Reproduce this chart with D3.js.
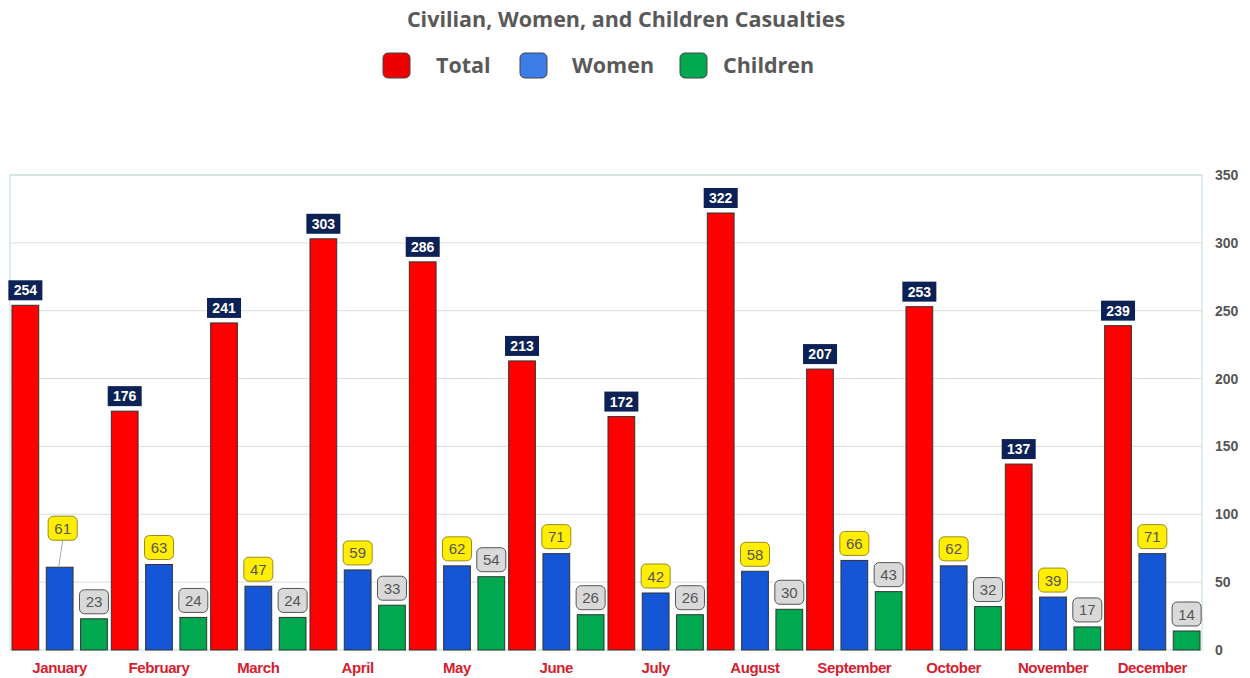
<!DOCTYPE html>
<html><head><meta charset="utf-8">
<script src="https://cdn.jsdelivr.net/npm/d3@7"></script>
<style>body{margin:0;background:#fff;} svg{display:block;}</style>
</head><body>
<svg id="chart" width="1250" height="678"></svg>
<script>
const months = ["January","February","March","April","May","June","July","August","September","October","November","December"];
const seriesNames = ["Total","Women","Children"];
const total    = [254,176,241,303,286,213,172,322,207,253,137,239];
const women    = [61,63,47,59,62,71,42,58,66,62,39,71];
const children = [23,24,24,33,54,26,26,30,43,32,17,14];
const yTicks = [0,50,100,150,200,250,300,350];

const seriesValues = [total, women, children];
const barColors = ["#ff0000","#1556d6","#00a84f"];
const legendColors = ["#ee0000","#3c7ee8","#00a84f"];

const svg = d3.select("#chart");
const L = 10, R = 1202, T = 175, B = 650;

const x0 = d3.scaleBand().domain(months).range([L,R]).paddingInner(0.04).paddingOuter(0.02);
const x1 = d3.scaleBand().domain(seriesNames).range([0,x0.bandwidth()]).paddingInner(0.22);
const y = d3.scaleLinear().domain([0,350]).range([B,T]);

// title
svg.append("text").attr("x",626).attr("y",27).attr("text-anchor","middle")
  .attr("font-family","'Open Sans', sans-serif").attr("font-weight","bold").attr("font-size",21.5)
  .attr("fill","#595959").text("Civilian, Women, and Children Casualties");

// legend
const legendX = [383,520,680];
const legendTextX = [436,572,723];
seriesNames.forEach((s,i)=>{
  svg.append("rect").attr("x",legendX[i]).attr("y",53).attr("width",27).attr("height",25).attr("rx",5)
    .attr("fill",legendColors[i]).attr("stroke","#444").attr("stroke-width",1);
  svg.append("text").attr("x",legendTextX[i]).attr("y",73)
    .attr("font-family","'Open Sans', sans-serif").attr("font-weight","bold").attr("font-size",21.5)
    .attr("fill","#595959").text(s);
});

// gridlines
svg.append("g").selectAll("line").data(yTicks.filter(d=>d>0)).join("line")
  .attr("x1",L).attr("x2",R).attr("y1",d=>y(d)).attr("y2",d=>y(d))
  .attr("stroke","#dcdcdc").attr("stroke-width",1);
// plot border
svg.append("rect").attr("x",L).attr("y",T).attr("width",R-L).attr("height",B-T)
  .attr("fill","none").attr("stroke","#bfe3cc").attr("stroke-width",1);

// right axis
const yAxis = d3.axisRight(y).tickValues(yTicks).tickSize(0).tickPadding(0);
const ga = svg.append("g").attr("transform",`translate(1215,0)`).call(yAxis);
ga.select(".domain").remove();
ga.selectAll("text").attr("font-family","'Liberation Sans', Arial, sans-serif").attr("font-weight","bold")
  .attr("font-size",14).attr("fill","#555").attr("dy","0.32em");

// bars
const groups = svg.append("g").selectAll("g").data(months).join("g")
  .attr("transform",d=>`translate(${x0(d)},0)`);
seriesNames.forEach((s,si)=>{
  groups.append("rect")
    .attr("x",x1(s)).attr("width",x1.bandwidth())
    .attr("y",(d,i)=>y(seriesValues[si][i])).attr("height",(d,i)=>B-y(seriesValues[si][i]))
    .attr("fill",barColors[si]).attr("stroke","#333").attr("stroke-width",1);
});

// month labels
svg.append("g").selectAll("text").data(months).join("text")
  .attr("x",d=>x0(d)+x0.bandwidth()/2).attr("y",673).attr("text-anchor","middle")
  .attr("font-family","'Liberation Sans', Arial, sans-serif").attr("font-weight","bold").attr("font-size",15)
  .attr("letter-spacing","-0.4").attr("fill","#d5202e").text(d=>d);

// data labels
const labelShift = {"January": 22}; // women label displaced with leader line
months.forEach((m,i)=>{
  // total
  const cxT = x0(m)+x1("Total")+x1.bandwidth()/2;
  const yT = y(total[i]);
  svg.append("rect").attr("x",cxT-17).attr("y",yT-25).attr("width",34).attr("height",20)
    .attr("fill","#0c2256");
  svg.append("text").attr("x",cxT).attr("y",yT-10).attr("text-anchor","middle")
    .attr("font-family","'Liberation Sans', Arial, sans-serif").attr("font-weight","bold").attr("font-size",14)
    .attr("fill","#fff").text(total[i]);
  // women
  const cxW = x0(m)+x1("Women")+x1.bandwidth()/2;
  const yW = y(women[i]);
  const sh = labelShift[m] || 0;
  const cxWl = sh ? cxW + 3 : cxW;
  if (sh) {
    svg.append("line").attr("x1",cxW-1).attr("y1",yW).attr("x2",cxWl).attr("y2",yW-5-sh)
      .attr("stroke","#aaa").attr("stroke-width",1);
  }
  svg.append("rect").attr("x",cxWl-14.5).attr("y",yW-29-sh).attr("width",29).attr("height",24).attr("rx",5)
    .attr("fill","#ffee00").attr("stroke","#9a8a20").attr("stroke-width",1);
  svg.append("text").attr("x",cxWl).attr("y",yW-11.5-sh).attr("text-anchor","middle")
    .attr("font-family","'Liberation Sans', Arial, sans-serif").attr("font-size",15)
    .attr("fill","#555").text(women[i]);
  // children
  const cxC = x0(m)+x1("Children")+x1.bandwidth()/2;
  const yC = y(children[i]);
  svg.append("rect").attr("x",cxC-14.5).attr("y",yC-29).attr("width",29).attr("height",24).attr("rx",5)
    .attr("fill","#d9d9d9").attr("stroke","#555").attr("stroke-width",1);
  svg.append("text").attr("x",cxC).attr("y",yC-11.5).attr("text-anchor","middle")
    .attr("font-family","'Liberation Sans', Arial, sans-serif").attr("font-size",15)
    .attr("fill","#555").text(children[i]);
});
</script>
</body></html>
